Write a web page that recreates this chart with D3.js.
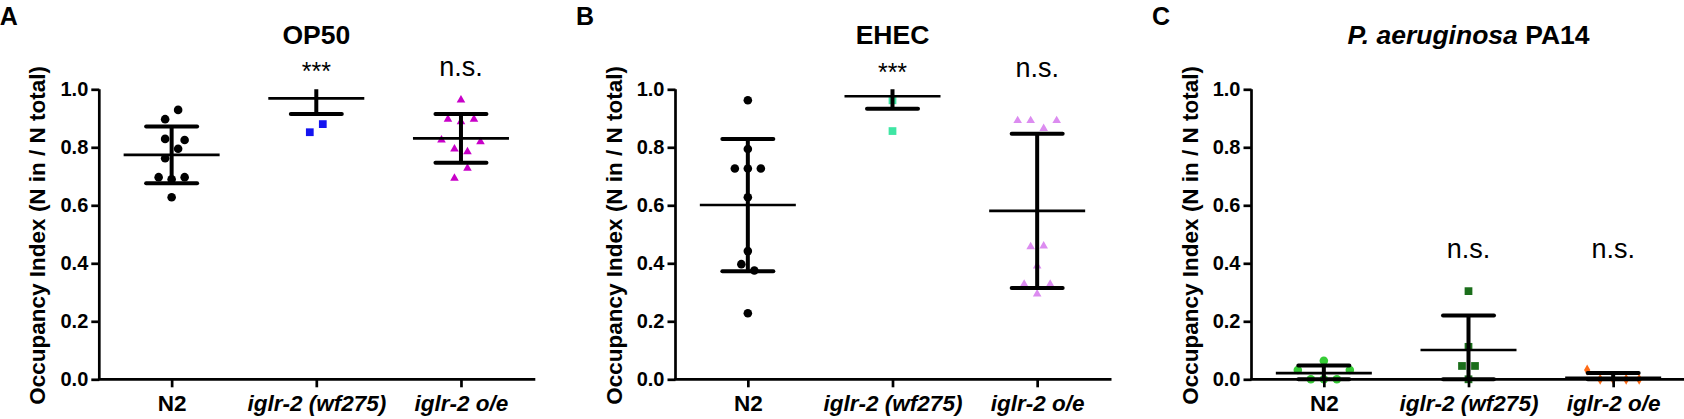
<!DOCTYPE html>
<html>
<head>
<meta charset="utf-8">
<script src="https://cdn.jsdelivr.net/npm/d3@7"></script>
<style>
  body { margin: 0; background: #fff; }
  svg { display: block; }
  text { font-family: "Liberation Sans", Arial, sans-serif; fill: #000; }
</style>
</head>
<body>
<svg class="chart"></svg>
<script>
var panelLetters = ["A", "B", "C"];
var groups = ["N2", "iglr-2 (wf275)", "iglr-2 o/e"];
var yTicks = [0, 0.2, 0.4, 0.6, 0.8, 1.0];

// OP50; *Col = scatter column (GraphPad style spread)
var op50N2 = [0.929, 0.897, 0.829, 0.825, 0.795, 0.762, 0.697, 0.690, 0.697, 0.628];
var op50N2Col = [1, -1, -1, 2, 1, -1, -2, 0, 2, 0];
var op50Wf = [0.852, 0.880];
var op50WfCol = [-1, 1];
var op50Oe = [0.963, 0.897, 0.888, 0.897, 0.825, 0.819, 0.794, 0.785, 0.728, 0.693];
var op50OeCol = [0, -2, 0, 2, -3, 3, -1, 1, 1, -1];
var op50Mean = [0.774, 0.969, 0.831];
var op50Sd = [0.098, 0.054, 0.084];
var op50Sig = ["", "***", "n.s."];

// EHEC
var ehecN2 = [0.962, 0.794, 0.727, 0.727, 0.727, 0.628, 0.442, 0.397, 0.375, 0.228];
var ehecN2Col = [0, 0, -2, 0, 2, 0, 0, -1, 1, 0];
var ehecWf = [0.962, 0.856];
var ehecWfCol = [0, 0];
var ehecOe = [0.892, 0.892, 0.865, 0.892, 0.457, 0.460, 0.391, 0.328, 0.328, 0.294];
var ehecOeCol = [-3, -1, 1, 3, -1, 1, 0, -2, 2, 0];
var ehecMean = [0.601, 0.976, 0.581];
var ehecSd = [0.228, 0.043, 0.266];
var ehecSig = ["", "***", "n.s."];

// P. aeruginosa PA14
var pa14N2 = [0.064, 0.032, 0.032, 0, 0, 0];
var pa14N2Col = [0, -4, 4, -2, 0, 2];
var pa14Wf = [0.304, 0.112, 0.046, 0.046, 0];
var pa14WfCol = [0, 0, -1, 1, 0];
var pa14Oe = [0.032, 0, 0, 0, 0];
var pa14OeCol = [-4, -2, 0, 2, 4];
var pa14Mean = [0.021, 0.101, 0.005];
var pa14Sd = [0.027, 0.119, 0.017];
var pa14Sig = ["", "n.s.", "n.s."];

var width = 1684,
    height = 419;

var svg = d3.select(".chart")
    .attr("width", width)
    .attr("height", height);

var panels = [
  { left: 99.3, title: [{t: "OP50", it: false}],
    sets: [op50N2, op50Wf, op50Oe], cols: [op50N2Col, op50WfCol, op50OeCol],
    mean: op50Mean, sd: op50Sd, sig: op50Sig, sigY: 76,
    colors: ["#000000", "#1414f0", "#c800c8"],
    shapes: [d3.symbolCircle, d3.symbolSquare, d3.symbolTriangle] },
  { left: 675.5, title: [{t: "EHEC", it: false}],
    sets: [ehecN2, ehecWf, ehecOe], cols: [ehecN2Col, ehecWfCol, ehecOeCol],
    mean: ehecMean, sd: ehecSd, sig: ehecSig, sigY: 77,
    colors: ["#000000", "#3fe6a4", "#dc8cf0"],
    shapes: [d3.symbolCircle, d3.symbolSquare, d3.symbolTriangle] },
  { left: 1251.5, title: [{t: "P. aeruginosa", it: true}, {t: " PA14", it: false}],
    sets: [pa14N2, pa14Wf, pa14Oe], cols: [pa14N2Col, pa14WfCol, pa14OeCol],
    mean: pa14Mean, sd: pa14Sd, sig: pa14Sig, sigY: 258,
    colors: ["#36cc36", "#1b6e1b", "#ff6a14"],
    shapes: [d3.symbolCircle, d3.symbolSquare, d3.symbolDiamond] }
];

var plotW = 434,
    plotTop = 89.3,
    plotBottom = 379.3,
    colStep = 6.5;

var y = d3.scaleLinear().domain([0, 1]).range([plotBottom, plotTop]);

function symbolSize(shape) {
  if (shape === d3.symbolCircle) return 58;
  if (shape === d3.symbolSquare) return 60;
  if (shape === d3.symbolTriangle) return 32;
  return 34;
}

panels.forEach(function(p, pi) {
  var g = svg.append("g");
  var x = d3.scalePoint().domain(groups).range([p.left, p.left + plotW]).padding(0.5);

  // clip so error bars stop at the top of the axis (like the original)
  var clipId = "clip" + pi;
  svg.append("clipPath").attr("id", clipId)
    .append("rect")
      .attr("x", p.left)
      .attr("y", plotTop)
      .attr("width", plotW + 10)
      .attr("height", plotBottom - plotTop + 20);

  // points
  groups.forEach(function(grp, gi) {
    var shape = p.shapes[gi];
    g.selectAll(null)
      .data(p.sets[gi])
      .enter()
      .append("path")
        .attr("d", d3.symbol().type(shape).size(symbolSize(shape)))
        .attr("transform", function(d, i) {
          return "translate(" + (x(grp) + p.cols[gi][i] * colStep) + "," + y(d) + ")";
        })
        .style("fill", p.colors[gi]);
  });

  // mean +/- SD (lower end stops at the axis)
  var bars = g.append("g").attr("clip-path", "url(#" + clipId + ")");
  groups.forEach(function(grp, gi) {
    var cx = x(grp),
        m = p.mean[gi],
        hi = m + p.sd[gi],
        lo = Math.max(0, m - p.sd[gi]);
    bars.append("line")
      .attr("x1", cx).attr("x2", cx)
      .attr("y1", y(hi)).attr("y2", y(lo))
      .attr("stroke", "#000").attr("stroke-width", 4);
    [hi, lo].forEach(function(v) {
      bars.append("line")
        .attr("x1", cx - 25.5).attr("x2", cx + 25.5)
        .attr("y1", y(v)).attr("y2", y(v))
        .attr("stroke", "#000").attr("stroke-width", 4).attr("stroke-linecap", "round");
    });
    bars.append("line")
      .attr("x1", cx - 48).attr("x2", cx + 48)
      .attr("y1", y(m)).attr("y2", y(m))
      .attr("stroke", "#000").attr("stroke-width", 2.7);
  });

  // axes
  var yAxis = d3.axisLeft(y).tickValues(yTicks).tickFormat(d3.format(".1f")).tickSize(8).tickPadding(3);
  var gy = g.append("g").attr("transform", "translate(" + p.left + ",0)").call(yAxis);
  gy.select(".domain").attr("stroke", "#000").attr("stroke-width", 2.7)
    .attr("d", "M0," + plotTop + "V" + plotBottom);
  gy.selectAll(".tick line").attr("stroke", "#000").attr("stroke-width", 2.7);
  gy.selectAll(".tick text")
    .style("font-size", "20px").style("font-weight", "bold").attr("fill", "#000");

  var xAxis = d3.axisBottom(x).tickSize(8).tickPadding(6);
  var gx = g.append("g").attr("transform", "translate(0," + plotBottom + ")").call(xAxis);
  gx.select(".domain").attr("stroke", "#000").attr("stroke-width", 2.7)
    .attr("d", "M" + (p.left - 1.35) + ",0H" + (p.left + plotW + 2));
  gx.selectAll(".tick line").attr("stroke", "#000").attr("stroke-width", 2.7);
  gx.selectAll(".tick text")
    .attr("y", 32).attr("dy", 0).attr("fill", "#000")
    .style("font-size", "22.5px").style("font-weight", "bold")
    .style("font-style", function(d) { return d == "N2" ? "normal" : "italic"; });

  // y label
  g.append("text")
    .attr("transform", "translate(" + (p.left - 54) + "," + ((plotTop + plotBottom) / 2 + 1) + ") rotate(-90)")
    .attr("text-anchor", "middle")
    .style("font-size", "22.5px").style("font-weight", "bold")
    .text("Occupancy Index (N in / N total)");

  // panel letter
  g.append("text")
    .attr("x", p.left - 99.5).attr("y", 25)
    .style("font-size", "25px").style("font-weight", "bold")
    .text(panelLetters[pi]);

  // title
  var title = g.append("text")
    .attr("x", x(groups[1])).attr("y", 44)
    .attr("text-anchor", "middle")
    .style("font-size", "26.5px").style("font-weight", "bold");
  p.title.forEach(function(part) {
    title.append("tspan").style("font-style", part.it ? "italic" : "normal").text(part.t);
  });

  // significance
  groups.forEach(function(grp, gi) {
    var s = p.sig[gi];
    if (!s) return;
    g.append("text")
      .attr("x", x(grp))
      .attr("y", s == "***" ? p.sigY + 4 : p.sigY)
      .attr("text-anchor", "middle")
      .style("font-size", s == "***" ? "25px" : "27px")
      .text(s);
  });
});
</script>
</body>
</html>
